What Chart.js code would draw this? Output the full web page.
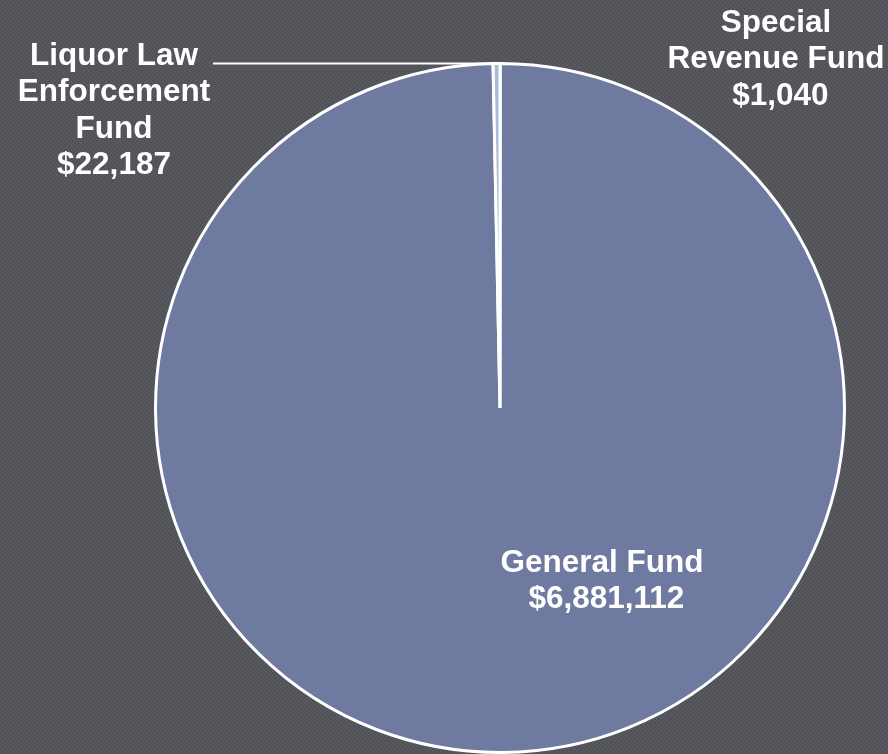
<!DOCTYPE html>
<html>
<head>
<meta charset="utf-8">
<script src="https://cdn.jsdelivr.net/npm/chart.js@4/dist/chart.umd.min.js"></script>
<style>
    html, body {
        margin: 0;
        padding: 0;
    }
    body {
        width: 888px;
        height: 754px;
        overflow: hidden;
        background-color: #55565b;
        background-image: repeating-conic-gradient(#58595e 0% 25%, #515257 0% 50%);
        background-size: 4px 4px;
    }
    #wrap {
        position: relative;
        width: 888px;
        height: 754px;
    }
</style>
</head>
<body>
<div id="wrap">
    <canvas id="fund_chart"></canvas>
</div>
<script>
const fundLabels = ['Special Revenue Fund', 'General Fund', 'Liquor Law Enforcement Fund'];
const fundValues = [1040, 6881112, 22187];
const fundColors = ['#c9d3e6', '#6f7aa0', '#a9bdd4'];

function money(v) {
    return '$' + v.toLocaleString('en-US');
}

// label lines for each slice, drawn outside the library's own legend
const labelLayout = [
    {lines: ['Special', 'Revenue Fund', ' ' + money(fundValues[0])], x: 776, y: 23},
    {lines: ['General Fund', ' ' + money(fundValues[1])], x: 602, y: 563},
    {lines: ['Liquor Law', 'Enforcement', 'Fund', money(fundValues[2])], x: 114, y: 56},
];

const fundLabelPlugin = {
    id: 'fundLabels',
    afterDatasetsDraw(chart) {
        const ctx = chart.ctx;
        const arcs = chart.getDatasetMeta(0).data;

        // leader line for the liquor law slice
        const arc = arcs[2];
        const mid = (arc.startAngle + arc.endAngle) / 2;
        const ex = arc.x + arc.outerRadius * Math.cos(mid);
        const ey = arc.y + arc.outerRadius * Math.sin(mid);
        ctx.save();
        ctx.strokeStyle = '#ffffff';
        ctx.lineWidth = 2;
        ctx.beginPath();
        ctx.moveTo(213, ey);
        ctx.lineTo(ex, ey);
        ctx.stroke();

        ctx.fillStyle = '#ffffff';
        ctx.font = 'bold 31.5px "Liberation Sans", Arial, sans-serif';
        ctx.textAlign = 'center';
        ctx.textBaseline = 'middle';
        labelLayout.forEach(function (item) {
            item.lines.forEach(function (line, i) {
                ctx.fillText(line, item.x, item.y + i * 36.5);
            });
        });
        ctx.restore();
    }
};

new Chart(document.getElementById('fund_chart'), {
    type: 'pie',
    data: {
        labels: fundLabels,
        datasets: [{
            data: fundValues,
            backgroundColor: fundColors,
            borderColor: '#ffffff',
            borderWidth: 3,
        }],
    },
    options: {
        responsive: true,
        maintainAspectRatio: false,
        animation: false,
        layout: {
            padding: {left: 112, right: 0, top: 62, bottom: 0},
        },
        plugins: {
            legend: {display: false},
            tooltip: {enabled: false},
        },
    },
    plugins: [fundLabelPlugin],
});
</script>
</body>
</html>
